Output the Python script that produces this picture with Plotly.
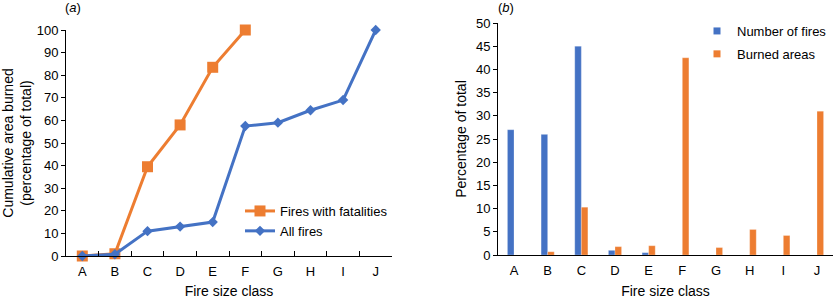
import plotly.graph_objects as go

classes = ["A", "B", "C", "D", "E", "F", "G", "H", "I", "J"]
fatal_classes = ["A", "B", "C", "D", "E", "F"]
cum_fatal = [0, 1, 39.5, 58, 83.5, 100]
cum_all = [0, 0.8, 11, 13, 15, 57.5, 59, 64.5, 69, 100]
pct_number = [27, 26, 45, 1, 0.5, 0, 0, 0, 0, 0]
pct_burned = [0, 0.7, 10.3, 1.8, 2, 42.5, 1.6, 5.5, 4.2, 31]

ORANGE = "#ED7D31"
BLUE = "#4472C4"
W, H = 834, 299
FONT = "Liberation Sans, Arial, sans-serif"

fig = go.Figure()
fig.add_trace(go.Scatter(x=fatal_classes, y=cum_fatal, name="Fires with fatalities",
                         mode="lines+markers", line=dict(color=ORANGE, width=3),
                         marker=dict(symbol="square", size=11, color=ORANGE),
                         xaxis="x", yaxis="y", cliponaxis=False, legend="legend"))
fig.add_trace(go.Scatter(x=classes, y=cum_all, name="All fires",
                         mode="lines+markers", line=dict(color=BLUE, width=3),
                         marker=dict(symbol="diamond", size=8, color=BLUE),
                         xaxis="x", yaxis="y", cliponaxis=False, legend="legend"))
fig.add_trace(go.Bar(x=classes, y=pct_number, name="Number of fires",
                     marker=dict(color=BLUE, line=dict(color="rgba(255,255,255,0.5)", width=0.5)),
                     xaxis="x2", yaxis="y2", showlegend=False))
fig.add_trace(go.Bar(x=classes, y=pct_burned, name="Burned areas",
                     marker=dict(color=ORANGE, line=dict(color="rgba(255,255,255,0.5)", width=0.5)),
                     xaxis="x2", yaxis="y2", showlegend=False))
# legend keys for the bar series (small squares, as in the reference)
for name, col, grp in [("Number of fires", BLUE, "n"), ("Burned areas", ORANGE, "b")]:
    fig.add_trace(go.Scatter(x=[None], y=[None], name=name, mode="markers",
                             marker=dict(symbol="square", size=7, color=col),
                             xaxis="x2", yaxis="y2", legend="legend2", legendgroup=grp))

axis_common = dict(showline=True, linecolor="black", linewidth=1, showgrid=False,
                   zeroline=False, tickfont=dict(size=13, color="black", family=FONT),
                   tickcolor="black")

fig.update_layout(
    width=W, height=H,
    margin=dict(l=0, r=0, t=0, b=0, autoexpand=False),
    paper_bgcolor="white", plot_bgcolor="white",
    font=dict(family=FONT, color="black", size=13),
    showlegend=True,
    barmode="group", bargap=0.61, bargroupgap=0,
    xaxis=dict(domain=[66 / W, 392 / W], anchor="y", type="category",
               categoryorder="array", categoryarray=classes,
               range=[-0.5, 9.5], ticks="inside", tickson="boundaries", ticklen=5,
               ticklabelstandoff=3,
               title=dict(text="Fire size class", font=dict(size=14), standoff=11),
               **axis_common),
    yaxis=dict(domain=[43 / H, 269 / H], anchor="x", range=[0, 100], dtick=10,
               ticks="outside", ticklen=4,
               title=dict(text="Cumulative area burned<br>(percentage of total)",
                          font=dict(size=14), standoff=6),
               **axis_common),
    xaxis2=dict(domain=[498 / W, 833 / W], anchor="y2", type="category",
                categoryorder="array", categoryarray=classes,
                range=[-0.475, 9.475], ticks="", ticklabelstandoff=3,
                title=dict(text="Fire size class", font=dict(size=14), standoff=11),
                **axis_common),
    yaxis2=dict(domain=[44 / H, 276 / H], anchor="x2", range=[0, 50], dtick=5,
                ticks="outside", ticklen=4,
                title=dict(text="Percentage of total", font=dict(size=14), standoff=6),
                **axis_common),
    legend=dict(x=240 / W, y=1 - 196 / H, xanchor="left", yanchor="top",
                bgcolor="rgba(0,0,0,0)", font=dict(size=13),
                tracegroupgap=0),
    legend2=dict(x=697 / W, y=1 - 16 / H, xanchor="left", yanchor="top",
                 bgcolor="rgba(0,0,0,0)", font=dict(size=13), itemwidth=30,
                 traceorder="grouped", tracegroupgap=3),
    annotations=[
        dict(text="(<i>a</i>)", x=73 / W, y=1 - 8 / H, xref="paper", yref="paper",
             xanchor="center", yanchor="middle", showarrow=False, font=dict(size=13)),
        dict(text="(<i>b</i>)", x=506 / W, y=1 - 8 / H, xref="paper", yref="paper",
             xanchor="center", yanchor="middle", showarrow=False, font=dict(size=13)),
    ],
)

fig.write_html("out.html", config={"displayModeBar": False},
               post_script="document.body.style.margin='0';document.body.style.padding='0';")
